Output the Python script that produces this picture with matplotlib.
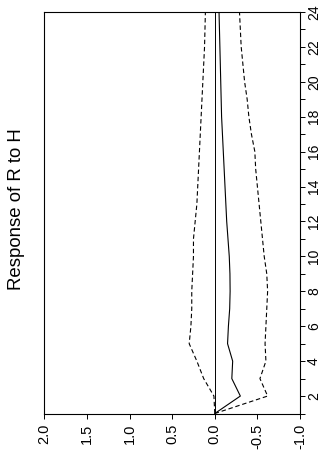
import matplotlib
matplotlib.use("Agg")
import matplotlib.pyplot as plt
from matplotlib.ticker import MultipleLocator, FixedLocator

plt.rcParams['font.family'] = ['Liberation Sans', 'DejaVu Sans']

periods = list(range(1, 25))
response = [0.0, -0.30, -0.20, -0.21, -0.15, -0.16, -0.175, -0.18, -0.178, -0.17,
            -0.155, -0.14, -0.13, -0.12, -0.11, -0.10, -0.09, -0.08, -0.075, -0.07,
            -0.065, -0.06, -0.055, -0.05]
lower = [0.0, -0.62, -0.53, -0.60, -0.59, -0.60, -0.61, -0.62, -0.61, -0.58,
         -0.56, -0.54, -0.52, -0.50, -0.48, -0.47, -0.43, -0.40, -0.38, -0.35,
         -0.33, -0.31, -0.30, -0.29]
upper = [0.0, 0.01, 0.13, 0.21, 0.30, 0.28, 0.27, 0.27, 0.26, 0.25,
         0.25, 0.23, 0.21, 0.20, 0.19, 0.18, 0.17, 0.16, 0.15, 0.14,
         0.13, 0.12, 0.115, 0.11]
title = "Response of R to H"
xticks = [2.0, 1.5, 1.0, 0.5, 0.0, -0.5, -1.0]

fig = plt.figure(figsize=(3.21, 4.59), dpi=100)
ax = fig.add_axes([0.138, 0.0991, 0.9346 - 0.138, 0.974 - 0.0991])

ax.axvline(0.0, color='black', lw=0.7)
ax.plot(response, periods, color='black', lw=0.8)
ax.plot(lower, periods, color='black', lw=0.8, dashes=(4, 2.5))
ax.plot(upper, periods, color='black', lw=0.8, dashes=(4, 2.5))

ax.set_xlim(2.0, -1.0)
ax.set_ylim(1, 24)
ax.xaxis.set_major_locator(FixedLocator(xticks))
ax.set_xticklabels([f"{v:.1f}" for v in xticks], rotation=90, fontsize=10.5)
ax.yaxis.tick_right()
ax.yaxis.set_minor_locator(MultipleLocator(1))
ax.yaxis.set_major_locator(FixedLocator(list(range(2, 25, 2))))
ax.set_yticklabels([str(v) for v in range(2, 25, 2)], rotation=90, va='center', fontsize=10)
ax.tick_params(axis='both', which='both', direction='out', length=3.5, width=0.7)
ax.tick_params(axis='y', which='both', pad=1.5)
ax.tick_params(axis='x', pad=4)
for s in ax.spines.values():
    s.set_linewidth(0.8)

fig.text(17 / 321, 1 - 209 / 459, title, rotation=90, ha='center', va='center', fontsize=13.4)

fig.savefig("out.png", dpi=100)
